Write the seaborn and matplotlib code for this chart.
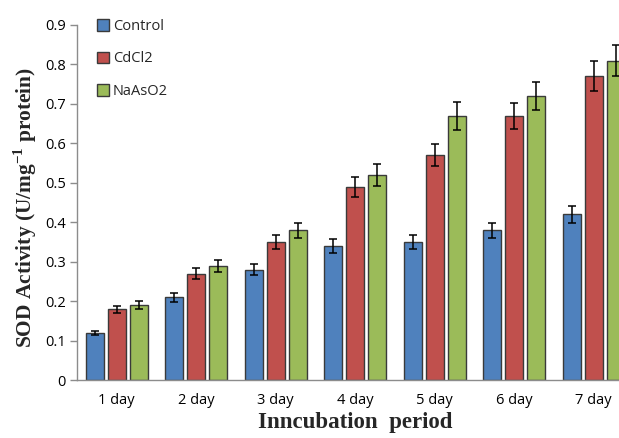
import matplotlib
matplotlib.use("Agg")
import matplotlib.pyplot as plt
import seaborn as sns
import pandas as pd
import numpy as np

days = ["1 day", "2 day", "3 day", "4 day", "5 day", "6 day", "7 day"]
groups = ["Control", "CdCl2", "NaAsO2"]
control = [0.12, 0.21, 0.28, 0.34, 0.35, 0.38, 0.42]
cdcl2 = [0.18, 0.27, 0.35, 0.49, 0.57, 0.67, 0.77]
naaso2 = [0.19, 0.29, 0.38, 0.52, 0.67, 0.72, 0.81]
control_err = [0.006, 0.011, 0.014, 0.018, 0.017, 0.019, 0.021]
cdcl2_err = [0.009, 0.014, 0.018, 0.025, 0.028, 0.033, 0.038]
naaso2_err = [0.010, 0.015, 0.019, 0.027, 0.035, 0.036, 0.040]
colors = ["#4F81BD", "#C0504D", "#9BBB59"]

values = {"Control": control, "CdCl2": cdcl2, "NaAsO2": naaso2}
errors = {"Control": control_err, "CdCl2": cdcl2_err, "NaAsO2": naaso2_err}

rows = []
for g in groups:
    for d, v in zip(days, values[g]):
        rows.append({"day": d, "group": g, "value": v})
df = pd.DataFrame(rows)

sns.set_theme(style="ticks")
plt.rcParams["font.family"] = ["Open Sans", "DejaVu Sans"]
plt.rcParams["mathtext.fontset"] = "custom"
plt.rcParams["mathtext.rm"] = "Liberation Serif"
plt.rcParams["mathtext.bf"] = "Liberation Serif:bold"

fig = plt.figure(figsize=(6.19, 4.38), dpi=100)
ax = fig.add_axes([77 / 619, (438 - 380.3) / 438, 556.5 / 619, 355.3 / 438])

sns.barplot(data=df, x="day", y="value", hue="group", order=days,
            hue_order=groups, palette=colors, width=0.83, gap=0.195,
            edgecolor="#3a3a3a", linewidth=1.0, ax=ax, errorbar=None,
            saturation=1)

for cont, g in zip(ax.containers, groups):
    xs = [p.get_x() + p.get_width() / 2 for p in cont.patches]
    hs = [p.get_height() for p in cont.patches]
    ax.errorbar(xs, hs, yerr=errors[g], fmt="none", ecolor="black",
                elinewidth=1.1, capsize=3.2, capthick=1.1, zorder=5)

ax.set_xlim(-0.5, 6.5)
ax.set_ylim(0, 0.9)
ax.set_yticks(np.arange(0, 0.91, 0.1))
ax.set_yticklabels(["0"] + [f"{v:.1f}" for v in np.arange(0.1, 0.91, 0.1)])

for s in ["top", "right"]:
    ax.spines[s].set_visible(False)
for s in ["left", "bottom"]:
    ax.spines[s].set_color("#8c8c8c")
    ax.spines[s].set_linewidth(1.0)

ax.tick_params(axis="y", length=5, width=1, color="#8c8c8c", labelsize=10.5,
               labelcolor="black", pad=3)
ax.tick_params(axis="x", length=0, labelsize=10.5, labelcolor="black", pad=9)

ax.set_xlabel("Inncubation  period", family="Liberation Serif",
              fontweight="bold", fontsize=16.5, labelpad=3)
ax.set_ylabel("SOD Activity (U/mg$^{\\mathbf{-1}}$ protein)",
              family="Liberation Serif", fontweight="bold", fontsize=15.4)
ax.yaxis.set_label_coords(-0.069, 0.487)

handles, labels = ax.get_legend_handles_labels()
leg = ax.legend(handles, labels, loc="upper left",
                bbox_to_anchor=(97 / 619, 1 - 19 / 438),
                bbox_transform=fig.transFigure, frameon=False, fontsize=10.5,
                handlelength=0.8, handleheight=0.8, handletextpad=0.3,
                labelspacing=1.2, borderpad=0, borderaxespad=0)

fig.savefig("out.png", dpi=100)
